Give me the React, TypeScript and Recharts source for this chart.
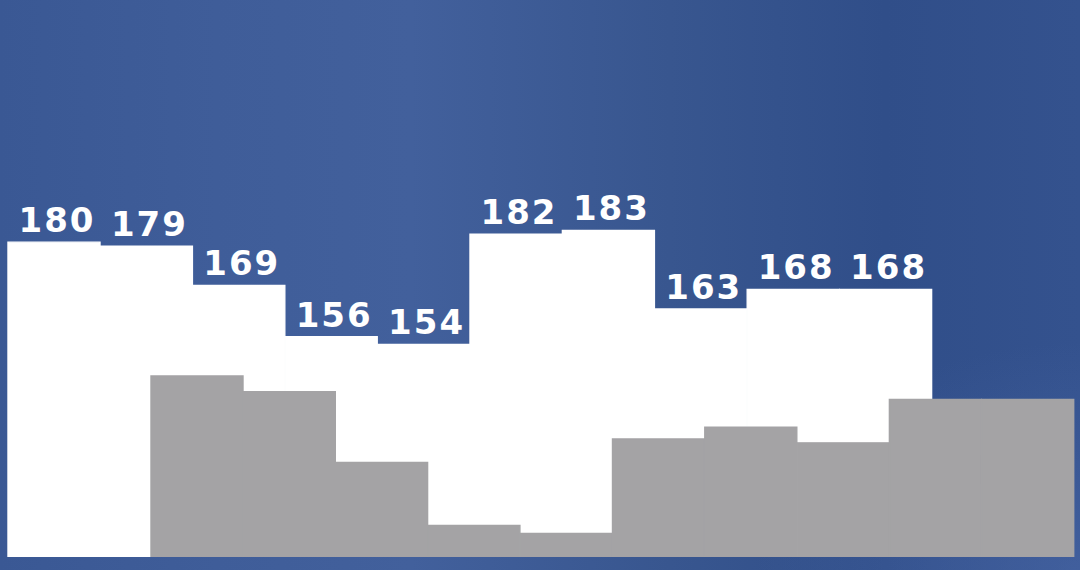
import { BarChart, Bar, XAxis, YAxis, LabelList } from "recharts";

const periods = ["1", "2", "3", "4", "5", "6", "7", "8", "9", "10"];
const frontValues = [180, 179, 169, 156, 154, 182, 183, 163, 168, 168];
const backValues = [146, 142, 124, 108, 106, 130, 133, 129, 140, 140];

const data = periods.map((p, i) => ({
  period: p,
  front: frontValues[i],
  back: backValues[i],
}));

const renderLabel = (props: any) => {
  const { x, y, width, value } = props;
  return (
    <text
      x={x + width / 2 + 3}
      y={y - 10}
      textAnchor="middle"
      fill="#ffffff"
      fontFamily="DejaVu Sans, sans-serif"
      fontWeight="bold"
      fontSize={34}
      letterSpacing={2}
    >
      {value}
    </text>
  );
};

export default function App() {
  return (
    <div
      style={{
        position: "absolute",
        top: 0,
        left: 0,
        width: 1080,
        height: 570,
        overflow: "hidden",
        background:
          "radial-gradient(ellipse 30% 40% at 100% 100%, rgba(78,108,172,0.5) 0%, rgba(78,108,172,0) 100%), linear-gradient(90deg, #3a5894 0%, #3f5d99 20%, #42609c 38%, #38568f 62%, #304e89 82%, #34528e 100%)",
      }}
    >
      <BarChart
        width={1080}
        height={557}
        data={data}
        margin={{ top: 6, right: 6, bottom: 0, left: 8 }}
        barCategoryGap={0}
        barGap={0}
      >
        <XAxis
          xAxisId="front"
          dataKey="period"
          hide
          padding={{ left: 0, right: 142 }}
        />
        <XAxis
          xAxisId="back"
          dataKey="period"
          hide
          padding={{ left: 143, right: 0 }}
        />
        <YAxis hide domain={[100, 240]} allowDataOverflow />
        <Bar
          xAxisId="front"
          dataKey="front"
          fill="#ffffff"
          stroke="#ffffff"
          strokeWidth={1.4}
          isAnimationActive={false}
        >
          <LabelList dataKey="front" content={renderLabel} />
        </Bar>
        <Bar
          xAxisId="back"
          dataKey="back"
          fill="#a4a3a5"
          stroke="#a4a3a5"
          strokeWidth={1.4}
          isAnimationActive={false}
        />
      </BarChart>
    </div>
  );
}
